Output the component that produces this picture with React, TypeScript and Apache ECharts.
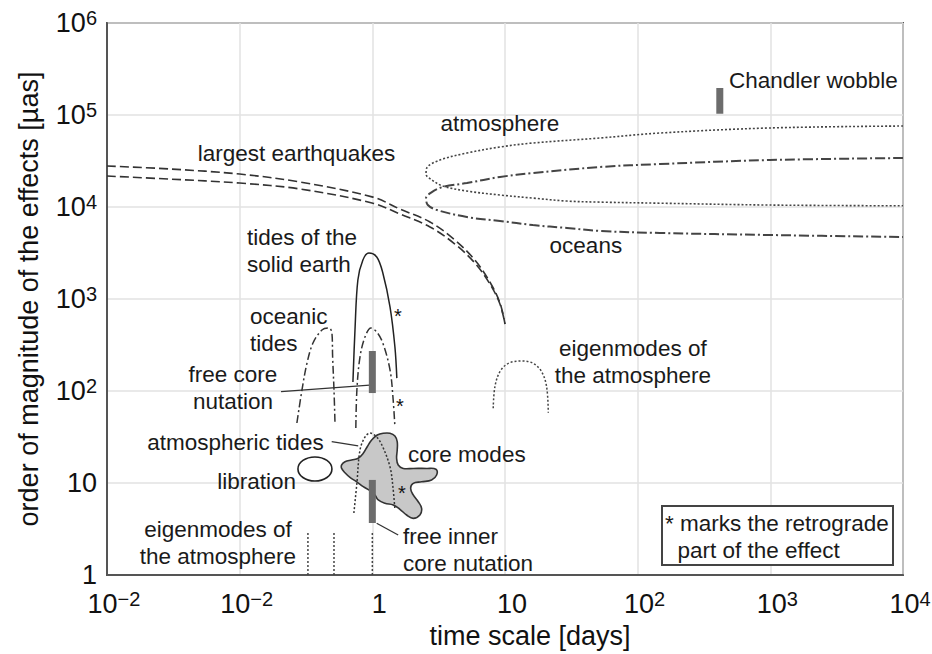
import { useEffect, useRef } from "react";
import * as echarts from "echarts";

const FONT = "'Liberation Sans', Arial, Helvetica, sans-serif";

// Tick labels (the reference repeats 10^-2 at 0.1)
const xTickBase = ["10", "10", "1", "10", "10", "10", "10"];
const xTickSup = ["−2", "−2", "", "", "2", "3", "4"];
const yTickBase = ["1", "10", "10", "10", "10", "10", "10"];
const yTickSup = ["", "", "2", "3", "4", "5", "6"];

// Curves: [time scale in days, magnitude in µas]
const quakeUpper = [[0.01, 27900], [0.0299, 25900], [0.1, 22800], [0.285, 18700], [1.01, 12800], [1.61, 9510], [2.72, 6870], [4.19, 4380], [5.93, 2650], [7.69, 1530], [9.16, 906], [10, 535]];
const quakeLower = [[0.01, 21700], [0.0299, 20100], [0.1, 18200], [0.285, 15700], [1.01, 11000], [1.61, 8400], [2.72, 6070], [4.19, 3960], [5.93, 2460], [7.69, 1460], [9.16, 884], [10, 535]];
const atmosphereLoop = [[10000, 75900], [991, 72300], [147, 63700], [51.9, 56200], [16.2, 49600], [9.17, 44900], [5.16, 38600], [3.23, 32400], [2.57, 26500], [2.54, 22800], [2.81, 19700], [3.4, 16900], [5.16, 14900], [9.17, 13500], [16.2, 12500], [29.3, 11600], [51.9, 11300], [147, 11000], [991, 10500], [10000, 10300]];
const oceansLoop = [[10000, 34100], [991, 32400], [147, 29300], [51.9, 27200], [16.2, 23400], [9.17, 21200], [5.16, 18200], [3.4, 16500], [2.81, 14500], [2.54, 12500], [2.62, 10500], [3.07, 9280], [5.16, 7780], [9.17, 7040], [16.2, 6370], [29.3, 5910], [51.9, 5490], [147, 5220], [991, 4960], [10000, 4720]];
const solidEarthTides = [[0.714, 125], [0.74, 460], [0.778, 1610], [0.849, 2660], [0.942, 3160], [1.08, 2860], [1.2, 1920], [1.36, 818], [1.48, 301], [1.53, 138]];
const oceanicTidesA = [[0.27, 44.9], [0.295, 103], [0.322, 202], [0.357, 332], [0.417, 461], [0.463, 484], [0.479, 480], [0.496, 427], [0.502, 236], [0.514, 103], [0.523, 44.9]];
const oceanicTidesB = [[0.751, 39.6], [0.765, 103], [0.807, 234], [0.88, 386], [0.976, 484], [1.08, 438], [1.2, 332], [1.36, 169], [1.43, 86.1], [1.48, 40.6]];
const atmosphericTides = [[0.726, 4.72], [0.765, 10], [0.807, 22.8], [0.88, 31.6], [0.96, 34.9], [1.08, 31.6], [1.2, 24.6], [1.36, 14.9], [1.43, 9.05], [1.48, 5.09]];
const eigenArch = [[8.15, 64.9], [8.39, 111], [9.15, 162], [10.6, 200], [13.3, 212], [16.3, 200], [18.9, 162], [20.6, 111], [21.2, 58.1]];
const eigenLinesX = [0.327, 0.514, 1.0];
const eigenLinesY = [1, 2.93];
const coreModes = [[0.587, 15.7], [0.622, 17.0], [0.698, 17.8], [0.783, 18.6], [0.854, 21.0], [0.915, 24.8], [0.988, 29.3], [1.089, 33.2], [1.208, 34.7], [1.357, 34.7], [1.48, 32.4], [1.54, 28.1], [1.54, 22.8], [1.524, 18.6], [1.567, 15.7], [1.71, 14.4], [2.033, 14.4], [2.566, 14.4], [3.015, 14.1], [3.052, 12.2], [2.798, 10.8], [2.352, 10.3], [2.033, 9.92], [1.944, 8.76], [2.033, 7.41], [2.218, 6.26], [2.352, 5.31], [2.284, 4.49], [2.033, 4.13], [1.813, 4.49], [1.614, 5.18], [1.437, 5.77], [1.244, 6.02], [1.108, 6.54], [1.046, 7.41], [0.959, 8.25], [0.854, 9.12], [0.762, 10.3], [0.678, 11.5], [0.622, 12.9], [0.587, 14.4]];
const librationX = [0.275, 0.496];
const librationY = [10.5, 19.2];
const chandlerBar = [[416, 103000], [416, 197000]];
const fcnBar = [[1, 95], [1, 272]];
const ficnBar = [[1, 3.67], [1, 10.8]];
const fcnLeader = [[0.205, 98.3], [0.955, 116]];
const atmTidesLeader = [[0.494, 28.1], [0.783, 25.3]];
const ficnLeader = [[1.078, 3.65], [1.567, 2.72]];
const stars = [[1.56, 653], [1.614, 68.7], [1.67, 7.78]];

// Annotations anchored in data coordinates
const annoTexts = [
  "Chandler wobble",
  "atmosphere",
  "largest earthquakes",
  "oceans",
  "tides of the\nsolid earth",
  "oceanic\ntides",
  "free core\nnutation",
  "atmospheric tides",
  "libration",
  "eigenmodes of\nthe atmosphere",
  "core modes",
  "free inner\ncore nutation",
  "eigenmodes of\nthe atmosphere",
];
const annoX = [487, 9.15, 0.268, 40.7, 0.1135, 0.1196, 0.089, 0.093, 0.134, 0.0686, 5.16, 1.7, 92.0];
const annoY = [240000, 81800, 38600, 3860, 3320, 466, 109, 27.9, 10.3, 2.2, 20.2, 1.87, 207];
const annoAlign = ["left", "center", "center", "center", "left", "left", "center", "center", "center", "center", "center", "left", "center"];

const noteLines = ["* marks the retrograde", "  part of the effect"];

function expOf(v: number) {
  return Math.round(Math.log10(v));
}

function lineS(data: number[][], type: any, width: number, color = "#333", smooth: number | boolean = 0.35) {
  return {
    type: "line",
    data,
    symbol: "none",
    smooth,
    silent: true,
    z: 4,
    lineStyle: { type, width, color, cap: "butt" },
  };
}

function barS(data: number[][]) {
  return {
    type: "line",
    data,
    symbol: "none",
    silent: true,
    z: 6,
    lineStyle: { type: "solid", width: 7, color: "#6c6c6c", cap: "butt" },
  };
}

const richTick = {
  b: { fontSize: 27, fontFamily: FONT, color: "#111", lineHeight: 30 },
  s: { fontSize: 20, fontFamily: FONT, color: "#111", lineHeight: 12, verticalAlign: "top" },
};

export default function App() {
  const ref = useRef<HTMLDivElement>(null);
  useEffect(() => {
    const chart = echarts.init(ref.current!, null, { renderer: "svg" });
    const option: any = {
      animation: false,
      backgroundColor: "#ffffff",
      grid: {
        left: 107,
        right: 29,
        top: 23,
        bottom: 79,
        show: true,
        borderColor: "#555",
        borderWidth: 2,
        outerBoundsMode: "none",
        containLabel: false,
      },
      xAxis: {
        type: "log",
        logBase: 10,
        min: 0.01,
        max: 10000,
        splitNumber: 6,
        axisLine: { show: true, lineStyle: { color: "#555", width: 2 } },
        axisTick: { show: false },
        minorTick: { show: false },
        splitLine: { show: true, lineStyle: { color: "#e2e2e2", width: 1.5 } },
        axisLabel: {
          margin: 14,
          padding: [0, 0, 0, 14],
          formatter: (v: number) => {
            const i = expOf(v) + 2;
            const b = xTickBase[i];
            const s = xTickSup[i];
            return s ? `{b|${b}}{s|${s}}` : `{b|${b}}`;
          },
          rich: richTick,
        },
        name: "time scale [days]",
        nameLocation: "middle",
        nameGap: 46,
        nameTextStyle: { fontSize: 27, fontFamily: FONT, color: "#111", padding: [0, 0, 0, 50] },
      },
      yAxis: {
        type: "log",
        logBase: 10,
        min: 1,
        max: 1000000,
        splitNumber: 6,
        axisLine: { show: true, lineStyle: { color: "#555", width: 2 } },
        axisTick: { show: false },
        minorTick: { show: false },
        splitLine: { show: true, lineStyle: { color: "#e2e2e2", width: 1.5 } },
        axisLabel: {
          margin: 10,
          formatter: (v: number) => {
            const i = expOf(v);
            const b = yTickBase[i];
            const s = yTickSup[i];
            return s ? `{b|${b}}{s|${s}}` : `{b|${b}}`;
          },
          rich: richTick,
        },
        name: "order of magnitude of the effects [µas]",
        nameLocation: "middle",
        nameGap: 65,
        nameTextStyle: { fontSize: 27, fontFamily: FONT, color: "#111" },
      },
      series: [
        {
          type: "custom",
          silent: true,
          z: 2,
          data: [coreModes[0]],
          renderItem: (_p: any, api: any) => ({
            type: "polygon",
            shape: { points: coreModes.map((pt) => api.coord(pt)), smooth: 0.4 },
            style: { fill: "#c8c8c8", stroke: "#333", lineWidth: 1.6 },
          }),
        },
        {
          type: "custom",
          silent: true,
          z: 2,
          data: [[librationX[0], librationY[0]]],
          renderItem: (_p: any, api: any) => {
            const a = api.coord([librationX[0], librationY[1]]);
            const b = api.coord([librationX[1], librationY[0]]);
            return {
              type: "ellipse",
              shape: { cx: (a[0] + b[0]) / 2, cy: (a[1] + b[1]) / 2, rx: (b[0] - a[0]) / 2, ry: (b[1] - a[1]) / 2 },
              style: { fill: "#fff", stroke: "#222", lineWidth: 1.6 },
            };
          },
        },
        lineS(quakeUpper, [9, 4], 1.6, "#333"),
        lineS(quakeLower, [9, 4], 1.6, "#333"),
        lineS(atmosphereLoop, [2, 2], 1.6, "#444"),
        lineS(oceansLoop, [10, 3, 2, 3], 2, "#444"),
        lineS(solidEarthTides, "solid", 1.5, "#222"),
        lineS(oceanicTidesA, [8, 3, 2, 3], 1.5, "#333"),
        lineS(oceanicTidesB, [8, 3, 2, 3], 1.5, "#333"),
        lineS(atmosphericTides, [2, 2], 1.5, "#333"),
        lineS(eigenArch, [2, 2], 1.5, "#444"),
        ...eigenLinesX.map((x) => lineS([[x, eigenLinesY[0]], [x, eigenLinesY[1]]], [2, 2], 1.5, "#444", false)),
        lineS(fcnLeader, "solid", 1.3, "#333", false),
        lineS(atmTidesLeader, "solid", 1.3, "#333", false),
        lineS(ficnLeader, "solid", 1.3, "#333", false),
        barS(chandlerBar),
        barS(fcnBar),
        barS(ficnBar),
        {
          type: "custom",
          silent: true,
          z: 10,
          data: annoX.map((x, i) => [x, annoY[i]]),
          renderItem: (params: any, api: any) => {
            const i = params.dataIndex;
            const p = api.coord([api.value(0), api.value(1)]);
            return {
              type: "text",
              x: p[0],
              y: p[1],
              style: {
                text: annoTexts[i],
                fontSize: 22.5,
                fontFamily: FONT,
                fill: "#1a1a1a",
                align: annoAlign[i],
                verticalAlign: "middle",
                lineHeight: 27,
              },
            };
          },
        },
        {
          type: "custom",
          silent: true,
          z: 10,
          data: stars,
          renderItem: (_params: any, api: any) => {
            const p = api.coord([api.value(0), api.value(1)]);
            return {
              type: "text",
              x: p[0],
              y: p[1],
              style: { text: "*", fontSize: 20, fontFamily: FONT, fill: "#111", align: "center", verticalAlign: "middle" },
            };
          },
        },
      ],
      graphic: [
        {
          type: "rect",
          z: 20,
          shape: { x: 662, y: 506, width: 231, height: 59 },
          style: { fill: "#fff", stroke: "#444", lineWidth: 2 },
        },
        {
          type: "text",
          z: 21,
          x: 665,
          y: 523,
          style: { text: noteLines[0], fontSize: 22.5, fontFamily: FONT, fill: "#1a1a1a", verticalAlign: "middle" },
        },
        {
          type: "text",
          z: 21,
          x: 665,
          y: 550,
          style: { text: noteLines[1], fontSize: 22.5, fontFamily: FONT, fill: "#1a1a1a", verticalAlign: "middle" },
        },
      ],
    };
    chart.setOption(option);
    return () => chart.dispose();
  }, []);
  return <div ref={ref} style={{ position: "absolute", left: 0, top: 0, width: 932, height: 654 }} />;
}
